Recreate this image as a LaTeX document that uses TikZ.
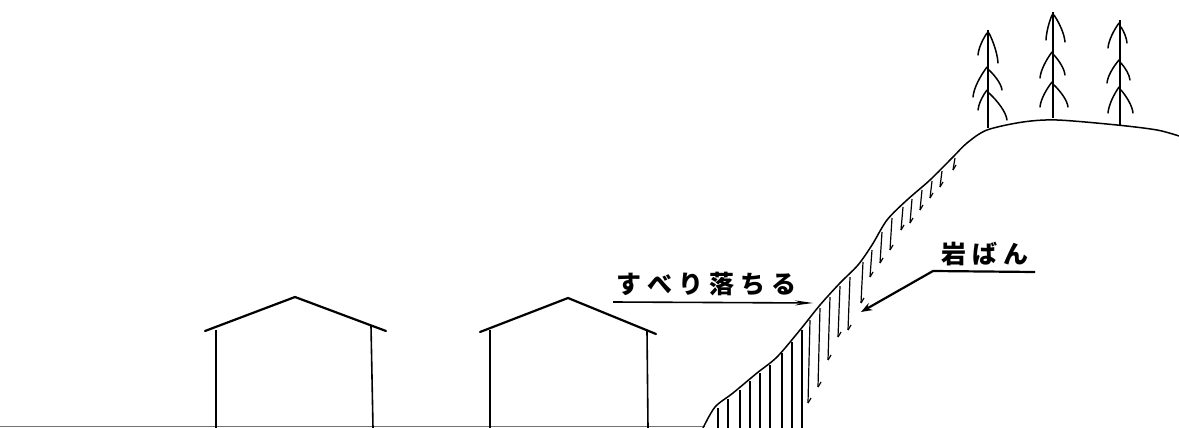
\documentclass[tikz,border=0pt]{standalone}
\usepackage{fontspec}
\newfontfamily\jpfont{Noto Sans CJK JP}
\usetikzlibrary{arrows.meta}
\newcommand\conifer[5]{% x, base, top, left branches, right branches
  \draw[tree] (#1,#2) -- (#1,#3);
  \foreach \ya/\xb/\yb in {#4}
    \draw[branch] (#1-1,\ya) .. controls ({#1-1+(\xb-#1)*0.45},{\ya+(\yb-\ya)*0.3})
      and ({\xb+(#1-\xb)*0.05},{\yb-(\yb-\ya)*0.3}) .. (\xb,\yb);
  \foreach \ya/\xb/\yb in {#5}
    \draw[branch] (#1+1,\ya) .. controls ({#1+1+(\xb-#1)*0.45},{\ya+(\yb-\ya)*0.3})
      and ({\xb+(#1-\xb)*0.05},{\yb-(\yb-\ya)*0.3}) .. (\xb,\yb);
}
\begin{document}
\begin{tikzpicture}[x=1pt,y=-1pt,
  ground/.style={line width=1.8pt,draw=black!55},
  wall/.style={line width=1.6pt},
  roof/.style={line width=2.2pt,line cap=round},
  slope/.style={line width=1.5pt},
  hatch/.style={line width=1.2pt},
  tree/.style={line width=2pt},
  branch/.style={line width=1.5pt,line cap=round},
  label/.style={font=\jpfont\bfseries\fontsize{25}{27}\selectfont,inner sep=0pt},
  pointer/.style={line width=2.2pt}]
\useasboundingbox (0,0) rectangle (1179,428);

% ground
\draw[ground] (0,426.5) -- (705,426.5);

% house on the left
\draw[roof] (205,331) -- (295,297) -- (386,331);
\draw[wall] (216,330) -- (216,428);
\draw[wall] (371,326) -- (373,428);

% house in the middle
\draw[roof] (480,332) -- (568,298) -- (656,334);
\draw[wall] (490,330) -- (490,428);
\draw[wall] (647,331) -- (648,428);

% hillside surface
\draw[slope] plot[smooth,tension=0.5] coordinates {
  (703,428) (715,407) (733,393) (757,373) (777,357) (800,330) (820,305)
  (840,283) (858,265) (872,245) (887,220) (907,200) (930,180) (953,157) (967,143)
  (987,130) (1023,122) (1057,120) (1117,125) (1157,130) (1179,136)};

% sliding layer hatching
\foreach \x/\yt/\yb in {718/408/428,728/399/428,740/390/428,750/381/428,
  760/373/428,770/365/428,782/353/428,792/342/428,802/330/428}
  \draw[hatch] (\x,\yt) -- (\x,\yb);
\foreach \x/\yt/\yb in {810/320/403,820/308/387,830/297/360,840/286/337,
  850/277/330,863/262/303,872/250/277,882/232/263,892/218/250,903/207/230,
  912/199/223,922/190/210,932/181/198,942/171/187,955/158/170}
  {\draw[hatch] (\x,\yt) -- (\x-2,\yb);
   \draw[hatch] (\x-2,\yb) -- (\x+1,\yb-5);}

% trees on the hilltop
\conifer{988}{128}{30}{33/978/55,67/973/97,90/978/110}{33/998/63,70/1002/90,93/1007/120}
\conifer{1053}{118}{12}{15/1046/40,52/1040/78,82/1040/107}{15/1065/42,55/1065/75,85/1068/107}
\conifer{1120}{125}{20}{23/1108/48,60/1107/83,87/1108/113}{27/1127/43,63/1130/80,90/1133/113}

% labels with pointers
\node[label] (slide) at (706,284) {す\hspace{6pt}べ\hspace{6pt}り\hspace{6pt}落\hspace{6pt}ち\hspace{6pt}る};
\coordinate (slideA) at (613,302);
\coordinate (slideB) at (813,303);
\draw[pointer,line width=1.6pt,-{Stealth[length=18pt,width=5pt]}] (slideA) -- (slideB);

\node[label] (rock) at (985,254) {岩\hspace{6pt}ば\hspace{6pt}ん};
\coordinate (rockA) at (1035,272);
\coordinate (rockB) at (933,271);
\coordinate (rockC) at (861,312);
\draw[pointer,-{Stealth[length=11pt,width=8pt]}] (rockA) -- (rockB) -- (rockC);
\end{tikzpicture}
\end{document}
